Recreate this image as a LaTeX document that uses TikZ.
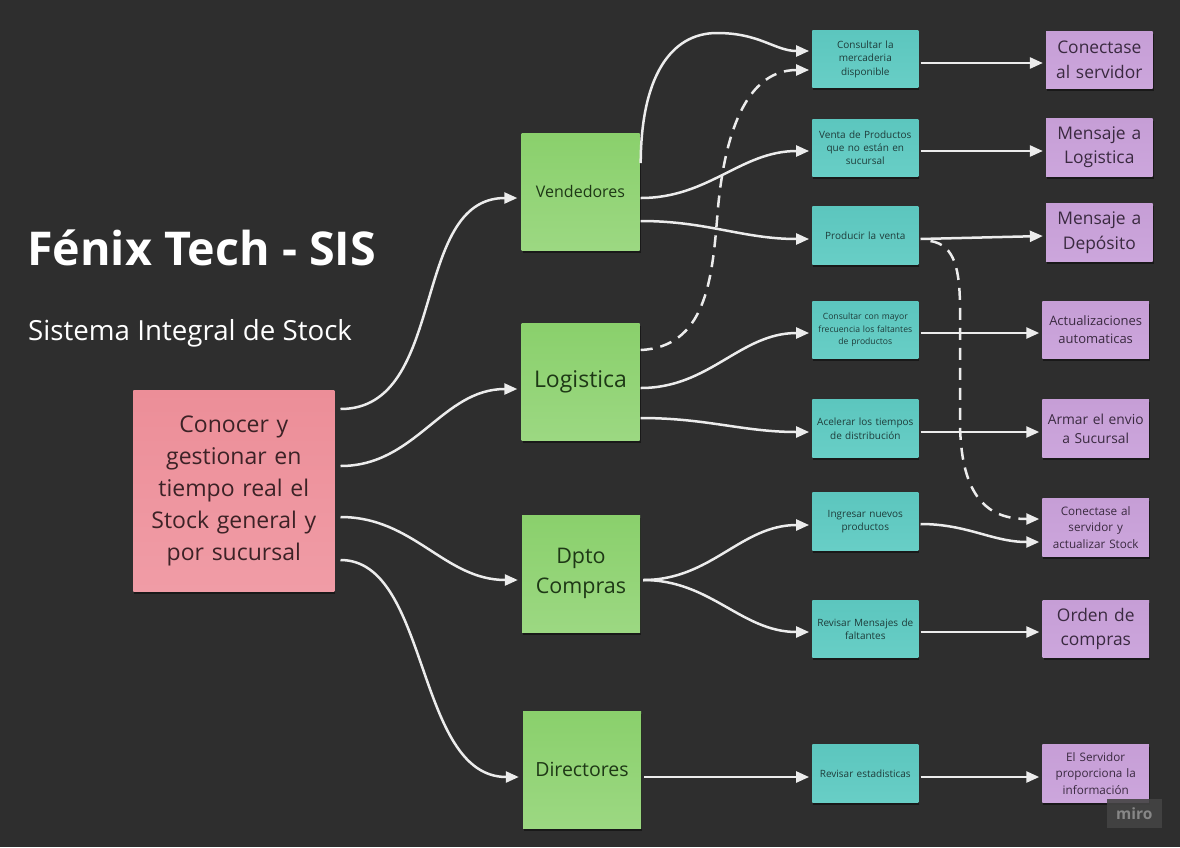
\documentclass[tikz,border=0pt]{standalone}
\usepackage{fontspec}
\setmainfont{Open Sans}
\usetikzlibrary{arrows.meta,shadows,calc}
\definecolor{bgc}{RGB}{46,46,46}
\definecolor{pinkA}{RGB}{236,142,152}
\definecolor{pinkB}{RGB}{240,156,166}
\definecolor{greenA}{RGB}{138,208,108}
\definecolor{greenB}{RGB}{156,216,130}
\definecolor{tealA}{RGB}{92,198,190}
\definecolor{tealB}{RGB}{104,206,198}
\definecolor{purpA}{RGB}{198,158,214}
\definecolor{purpB}{RGB}{204,166,220}
\definecolor{pinktext}{RGB}{60,34,38}
\definecolor{greentext}{RGB}{30,56,22}
\definecolor{tealtext}{RGB}{30,60,58}
\definecolor{purptext}{RGB}{58,42,64}
\definecolor{linec}{RGB}{236,236,236}
\definecolor{logobg}{RGB}{68,68,68}
\definecolor{logotext}{RGB}{135,135,135}
\tikzset{
  sticky/.style={draw=none, inner sep=2pt, align=center,
    drop shadow={shadow xshift=1pt, shadow yshift=-2.5pt, opacity=0.45, fill=black}},
  pinkbox/.style={sticky, top color=pinkA, bottom color=pinkB,
    minimum width=201pt, minimum height=201pt, text width=190pt, text=pinktext},
  greenbox/.style={sticky, top color=greenA, bottom color=greenB,
    minimum width=118pt, minimum height=117pt, text width=112pt, text=greentext},
  tealbox/.style={sticky, top color=tealA, bottom color=tealB,
    minimum width=106pt, minimum height=57.5pt, text width=100pt, text=tealtext,
    font=\fontsize{10}{13.3}\selectfont},
  purpbox/.style={sticky, top color=purpA, bottom color=purpB,
    minimum width=106.5pt, minimum height=57.5pt, text width=102pt, text=purptext},
  conn/.style={draw=linec, line width=2.5pt, -{Triangle[length=13pt,width=11pt]}},
  dconn/.style={conn, dash pattern=on 12pt off 8pt}
}
\begin{document}
\begin{tikzpicture}[x=1pt,y=-1pt]
\fill[bgc] (0,0) rectangle (1180,847);
\useasboundingbox (0,0) rectangle (1180,847);

% titles
\node[anchor=base west, inner sep=0, text=white, font=\fontsize{46.6}{50}\selectfont\bfseries] (title) at (27,265) {Fénix Tech - SIS};
\node[anchor=base west, inner sep=0, text=white, font=\fontsize{27.7}{32}\selectfont] (subtitle) at (28,340) {Sistema Integral de Stock};

% goal
\node[pinkbox, font=\fontsize{23}{32}\selectfont] (goal) at (233.8,490.8) {Conocer y\\gestionar en\\tiempo real el\\Stock general y\\por sucursal};

% actors
\node[greenbox, font=\fontsize{16}{20}\selectfont] (vend) at (580.5,191.7) {Vendedores};
\node[greenbox, font=\fontsize{23}{28}\selectfont] (logi) at (580.5,382.3) {Logistica};
\node[greenbox, font=\fontsize{21.5}{30}\selectfont] (dpto) at (581,573.7) {Dpto\\Compras};
\node[greenbox, font=\fontsize{19.5}{24}\selectfont] (dir) at (582,769.5) {Directores};

% tasks
\node[tealbox] (t1) at (865.3,59.2) {Consultar la\\mercaderia\\disponible};
\node[tealbox] (t2) at (865.3,147.8) {Venta de Productos\\que no están en\\sucursal};
\node[tealbox] (t3) at (865.3,235.5) {Producir la venta};
\node[tealbox, font=\fontsize{8.6}{12.5}\selectfont] (t4) at (865.3,330) {Consultar con mayor\\frecuencia los faltantes\\de productos};
\node[tealbox] (t5) at (865.3,428.7) {Acelerar los tiempos\\de distribución};
\node[tealbox] (t6) at (865.3,521.7) {Ingresar nuevos\\productos};
\node[tealbox] (t7) at (865.3,629) {Revisar Mensajes de\\faltantes};
\node[tealbox] (t8) at (865.3,773.3) {Revisar estadisticas};

% results
\node[purpbox, font=\fontsize{17.4}{24.5}\selectfont] (p1) at (1099.3,59.8) {Conectase\\al servidor};
\node[purpbox, font=\fontsize{17.4}{24.5}\selectfont] (p2) at (1099.3,147.3) {Mensaje a\\Logistica};
\node[purpbox, font=\fontsize{17.4}{24.5}\selectfont] (p3) at (1099.3,232.5) {Mensaje a\\Depósito};
\node[purpbox, font=\fontsize{13}{18}\selectfont] (p4) at (1095.7,330) {Actualizaciones\\automaticas};
\node[purpbox, font=\fontsize{13.8}{19}\selectfont] (p5) at (1095.7,428.7) {Armar el envio\\a Sucursal};
\node[purpbox, font=\fontsize{11.7}{16.3}\selectfont] (p6) at (1095.7,527.5) {Conectase al\\servidor y\\actualizar Stock};
\node[purpbox, font=\fontsize{17.4}{24.5}\selectfont] (p7) at (1095.8,628.8) {Orden de\\compras};
\node[purpbox, font=\fontsize{11.7}{16.3}\selectfont] (p8) at (1095.7,773.3) {El Servidor\\proporciona la\\información};

% goal -> actors
\draw[conn] ($(goal.east|-0,409)+(6,0)$) to[out=0,in=180] ($(vend.west|-0,198)+(-4,0)$);
\draw[conn] ($(goal.east|-0,466)+(6,0)$) to[out=0,in=180] ($(logi.west|-0,389)+(-4,0)$);
\draw[conn] ($(goal.east|-0,517)+(6,0)$) to[out=0,in=180] ($(dpto.west|-0,580)+(-4,0)$);
\draw[conn] ($(goal.east|-0,560)+(6,0)$) .. controls (430,560) and (415,777) .. ($(dir.west|-0,777)+(-4,0)$);

% vendedores
\draw[conn] ($(vend.east|-0,163)+(1,0)$) .. controls (641,78) and (670,33) .. (717,33) .. controls (760,33) and (775,51) .. ($(t1.west|-0,51)+(-3,0)$);
\draw[conn] ($(vend.east|-0,198)+(1,0)$) to[out=0,in=180] ($(t2.west|-0,151)+(-3,0)$);
\draw[conn] ($(vend.east|-0,221)+(1,0)$) to[out=0,in=180] ($(t3.west|-0,239)+(-3,0)$);

% logistica
\draw[dconn] ($(logi.east|-0,350)+(1,0)$) .. controls (705,347) and (712,280) .. (717,220) .. controls (722,150) and (740,70) .. ($(t1.west|-0,70)+(-3,0)$);
\draw[conn] ($(logi.east|-0,388)+(1,0)$) to[out=0,in=180] ($(t4.west|-0,333)+(-3,0)$);
\draw[conn] ($(logi.east|-0,418)+(1,0)$) to[out=0,in=180] ($(t5.west|-0,432)+(-3,0)$);

% dpto compras
\draw[conn] ($(dpto.east|-0,580)+(3,0)$) to[out=0,in=180] ($(t6.west|-0,525)+(-3,0)$);
\draw[conn] ($(dpto.east|-0,580)+(3,0)$) to[out=0,in=180] ($(t7.west|-0,632)+(-3,0)$);

% directores
\draw[conn] ($(dir.east|-0,777)+(3,0)$) -- ($(t8.west|-0,777)+(-3,0)$);

% tasks -> results
\draw[conn] ($(t1.east|-0,63)+(2,0)$) -- ($(p1.west|-0,63)+(-3,0)$);
\draw[conn] ($(t2.east|-0,151)+(2,0)$) -- ($(p2.west|-0,151)+(-3,0)$);
\draw[conn] ($(t3.east|-0,239)+(2,0)$) -- ($(p3.west|-0,236)+(-3,0)$);
\draw[conn] ($(t4.east|-0,333)+(2,0)$) -- ($(p4.west|-0,333)+(-3,0)$);
\draw[conn] ($(t5.east|-0,432)+(2,0)$) -- ($(p5.west|-0,432)+(-3,0)$);
\draw[conn] ($(t6.east|-0,524)+(2,0)$) to[out=0,in=180] ($(p6.west|-0,542)+(-3,0)$);
\draw[conn] ($(t7.east|-0,632)+(2,0)$) -- ($(p7.west|-0,632)+(-3,0)$);
\draw[conn] ($(t8.east|-0,777)+(2,0)$) -- ($(p8.west|-0,777)+(-3,0)$);
\draw[dconn] ($(t3.east|-0,241)+(12,0)$) .. controls (955,245) and (960,270) .. (960,310) -- (960,420) .. controls (960,500) and (990,519) .. ($(p6.west|-0,519)+(-3,0)$);

% logo
\node[fill=logobg, fill opacity=0.9, text opacity=1, text=logotext, inner sep=0,
  minimum width=55pt, minimum height=29pt, font=\fontsize{15.5}{18}\selectfont\bfseries] (logo) at (1134.2,813.6) {miro};
\end{tikzpicture}
\end{document}
